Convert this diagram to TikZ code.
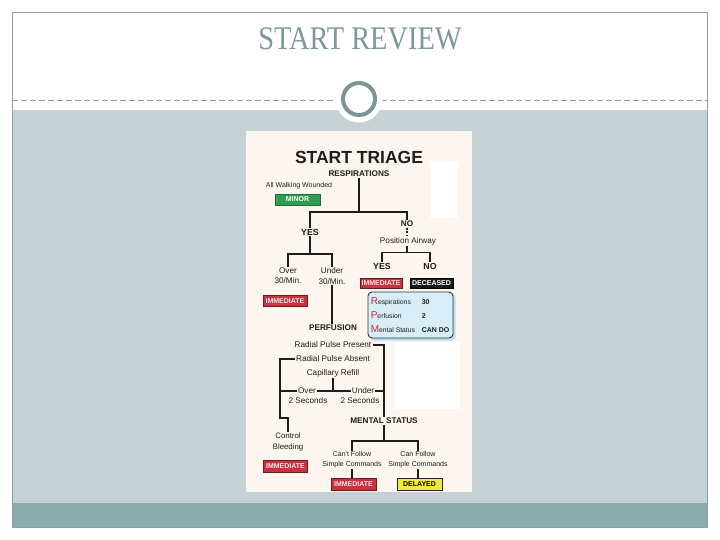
\documentclass[tikz,border=0pt]{standalone}
\usepackage{fontspec}
\usepackage{graphicx}
\setmainfont{Liberation Serif}
\newfontfamily\arialf{Liberation Sans}
\definecolor{slidegray}{HTML}{C6D1D6}
\definecolor{barcol}{HTML}{8AACAC}
\definecolor{titlecol}{HTML}{7D9898}
\definecolor{ringcol}{HTML}{7A9593}
\definecolor{bordercol}{HTML}{8E9D9D}
\definecolor{cream}{HTML}{FDF5EF}
\definecolor{minorg}{HTML}{2F9E52}
\definecolor{immred}{HTML}{C8323F}
\definecolor{immtext}{HTML}{FBE3E6}
\definecolor{delyel}{HTML}{F1EA3C}
\definecolor{pboxfill}{HTML}{D7EDF8}
\definecolor{pshadow}{HTML}{B9DDF0}
\definecolor{capred}{HTML}{D22630}
\definecolor{linecol}{HTML}{1E1E1E}
\begin{document}
\begin{tikzpicture}[x=1pt,y=-1pt,
  lbl/.style={font=\arialf\fontsize{8.2}{10.3}\selectfont, inner sep=0.6pt, align=center, text=linecol},
  small/.style={font=\arialf\fontsize{7}{10}\selectfont, inner sep=0.6pt, align=center, text=linecol},
  hdr/.style={font=\arialf\bfseries\fontsize{8.2}{9}\selectfont, inner sep=0.6pt, align=center, text=linecol},
  yesno/.style={font=\arialf\bfseries\fontsize{8.8}{9}\selectfont, inner sep=0.6pt, align=center, text=linecol},
  tag/.style={minimum width=44pt, minimum height=11pt, inner sep=0pt, font=\arialf\bfseries\fontsize{7}{7}\selectfont, line width=0.8pt},
  immbox/.style={tag, fill=immred, draw=immred!55!black, text=immtext},
  boxtxt/.style={font=\arialf\fontsize{6.8}{7}\selectfont, inner sep=0.6pt, anchor=base west, text=linecol},
  boxval/.style={font=\arialf\bfseries\fontsize{7}{7}\selectfont, inner sep=0.6pt, anchor=base west, text=linecol},
  conn/.style={draw=linecol, line width=1.1pt}
]
\useasboundingbox (0,0) rectangle (720,540);
% slide
\fill[white] (0,0) rectangle (720,540);
\fill[slidegray] (12,110) rectangle (707,503);
\fill[barcol] (12,503) rectangle (707,527);
\draw[bordercol, line width=0.6pt, dash pattern=on 6pt off 3pt] (12,100) -- (707,100);
\fill[white] (359,99) circle (23.5);
\draw[ringcol, line width=4pt] (359,99) circle (16);
\draw[bordercol, line width=0.9pt] (12,12) rectangle (707,527);
\node[font=\fontsize{33}{36}\selectfont, text=titlecol, inner sep=0pt] (title) at (360,39) {\scalebox{0.86}[1]{START REVIEW}};
% image
\fill[cream] (246,131) rectangle (472,492);
\fill[white] (430,162) rectangle (458,218);
\fill[white] (395,342) rectangle (460,409);

\node[font=\arialf\bfseries\fontsize{17.5}{18}\selectfont, inner sep=0pt, text=linecol] (triage) at (359,157) {START TRIAGE};
\node[hdr] (resp) at (359,174) {RESPIRATIONS};
\node[small] (walk) at (299,186) {All Walking Wounded};
\node[tag, fill=minorg, draw=minorg!70!black, text=white, minimum width=45pt] (minor) at (297.5,199.5) {MINOR};
\node[yesno] (yes1) at (310,232) {YES};
\node[hdr] (no1) at (407,224) {NO};
\node[lbl] (airway) at (408,241) {Position Airway};
\node[lbl] (over30) at (288,276) {Over\\30/Min.};
\node[lbl] (under30) at (332,276) {Under\\30/Min.};
\node[yesno] (yes2) at (382,266) {YES};
\node[yesno] (no2) at (430,266) {NO};
\node[immbox, minimum width=42pt, minimum height=10pt] (imm1) at (381,283.5) {IMMEDIATE};
\node[tag, fill=black!90, draw=black, text=white, minimum width=43pt, minimum height=10pt] (deceased) at (431.5,283.5) {DECEASED};
\node[immbox, minimum height=10.5pt] (imm2) at (285,301) {IMMEDIATE};
% blue box
\fill[pshadow, rounded corners=4pt] (370,294) rectangle (455.5,340.5);
\node[draw=black!80, line width=0.9pt, fill=pboxfill, rounded corners=4pt, minimum width=85pt, minimum height=46pt, inner sep=0pt] (pbox) at (410.5,315) {};
\node[boxtxt] (rresp) at (370,304) {\textcolor{capred}{\fontsize{10}{10}\selectfont R}espirations};
\node[boxtxt] (rperf) at (370,318) {\textcolor{capred}{\fontsize{10}{10}\selectfont P}erfusion};
\node[boxtxt] (rment) at (370,332) {\textcolor{capred}{\fontsize{10}{10}\selectfont M}ental Status};
\node[boxval] (vresp) at (421,304) {30};
\node[boxval] (vperf) at (421,318) {2};
\node[boxval] (vment) at (421,332) {CAN DO};

\node[hdr] (perf) at (333,328) {PERFUSION};
\node[lbl] (rpp) at (333,345) {Radial Pulse Present};
\node[lbl] (rpa) at (333,359) {Radial Pulse Absent};
\node[lbl] (cap) at (333,373) {Capillary Refill};
\node[lbl] (over2) at (307,391) {Over};
\node[lbl] (over2b) at (308,401) {2 Seconds};
\node[lbl] (under2) at (363,391) {Under};
\node[lbl] (under2b) at (360,401) {2 Seconds};
\node[lbl, font=\arialf\fontsize{7.8}{10.3}\selectfont] (ctrl) at (288,442) {Control\\Bleeding};
\node[immbox, minimum height=12pt] (imm3) at (285.5,466) {IMMEDIATE};
\node[hdr] (mental) at (384,421) {MENTAL STATUS};
\node[small] (cant) at (352,460) {Can't Follow\\Simple Commands};
\node[small] (can) at (418,460) {Can Follow\\Simple Commands};
\node[immbox, minimum height=12pt, minimum width=45pt] (imm4) at (353.5,484) {IMMEDIATE};
\node[tag, fill=delyel, draw=black!85, text=black, minimum height=12pt, minimum width=45pt] (delayed) at (419.5,484) {DELAYED};

% connectors
\coordinate (j1) at (359,212);
\coordinate (j2) at (310,254);
\coordinate (j3) at (407,252.5);
\coordinate (j5) at (384,441);
\coordinate (k1) at (280,418);
\draw[conn] (resp.south) -- (j1);
\draw[conn] (yes1.north) |- (j1) -| (no1.north);
\draw[conn, dash pattern=on 2pt off 1.5pt] (no1.south) -- (no1.south |- airway.north);
\draw[conn] (yes1.south) -- (j2);
\draw[conn] (over30.north) |- (j2) -| (under30.north);
\draw[conn] (airway.south -| j3) -- (j3);
\draw[conn] (yes2.north) |- (j3) -| (no2.north);
\draw[conn] (under30.south) -- (under30.south |- perf.north);
\draw[conn] ([xshift=1pt]rpp.east) -| (mental.north);
\draw[conn] (under2.east) -- (under2.east -| mental.north);
\draw[conn] (cap.south) -- (cap.south |- over2.east);
\draw[conn] (over2.east) -- (under2.west);
\draw[conn] (rpa.west) -| (k1) -| (ctrl.north);
\draw[conn] (over2.west) -- (over2.west -| k1);
\draw[conn] (mental.south) -- (j5);
\draw[conn] (cant.north) |- (j5) -| (can.north);
\draw[conn] (cant.south) -- (cant.south |- imm4.north);
\draw[conn] (can.south) -- (can.south |- delayed.north);
\end{tikzpicture}
\end{document}
